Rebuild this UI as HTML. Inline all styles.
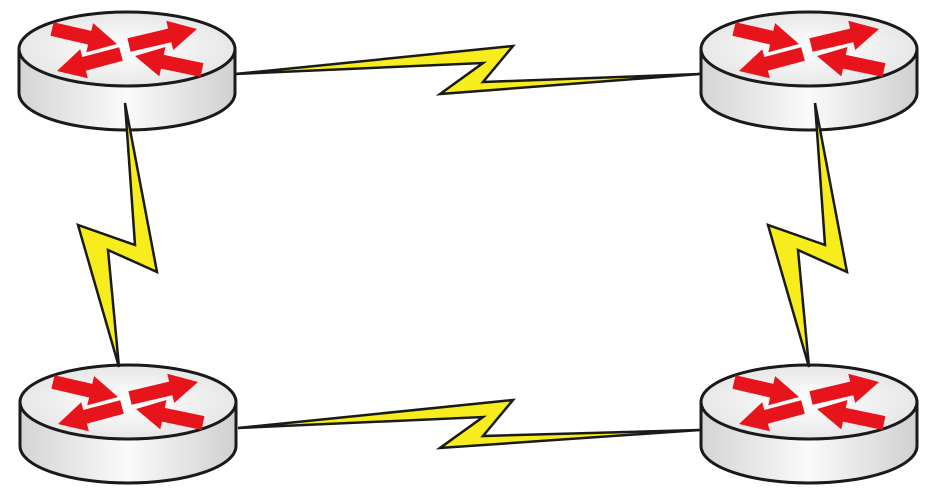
<!DOCTYPE html>
<html><head><meta charset="utf-8"><style>
html,body{margin:0;padding:0;background:#fff;width:937px;height:497px;overflow:hidden}
svg{display:block}
</style></head><body>
<svg id="net" width="937" height="497" viewBox="0 0 937 497" xmlns="http://www.w3.org/2000/svg">
<defs>
<linearGradient id="side" x1="0" x2="1" y1="0" y2="0">
<stop offset="0" stop-color="#d4d4d4"/><stop offset="0.5" stop-color="#fafafa"/><stop offset="1" stop-color="#d0d0d0"/>
</linearGradient>
<radialGradient id="top" cx="0.5" cy="0.5" r="0.6">
<stop offset="0" stop-color="#ffffff"/><stop offset="1" stop-color="#e2e2e2"/>
</radialGradient>
</defs>
<g id="routers"></g>
<g id="links"></g>
</svg>
<script>
const NS='http://www.w3.org/2000/svg';
const routerNames=['router-top-left','router-top-right','router-bottom-left','router-bottom-right'];
const routerCx=[127,809,128,809];
const routerCy=[49,49,402,402];
const linkNames=['link-top','link-left','link-right','link-bottom'];
const linkPts=[
 [[235,74],[513,46],[483,82],[700,74],[440,94],[483,63]],
 [[125,103],[157,272],[108,250],[119,367],[78,225],[135,245]],
 [[815,103],[847,272],[798,250],[809,367],[768,225],[825,245]],
 [[238,428],[513,400],[483,436],[700,430],[440,448],[483,417]]
];
const rx=108, ry=37, h=44;
function mk(t,a){const e=document.createElementNS(NS,t);for(const k in a)e.setAttribute(k,a[k]);return e;}
function arrow(x1,y1,x2,y2){
 const dx=x2-x1,dy=y2-y1,L=Math.hypot(dx,dy),ux=dx/L,uy=dy/L,px=-uy,py=ux;
 const hl=28,hw=15,sw=7;
 const b=L-hl;
 const P=[[0,sw],[b,sw],[b,hw],[L,0],[b,-hw],[b,-sw],[0,-sw]];
 return P.map(p=>(x1+ux*p[0]+px*p[1]).toFixed(1)+','+(y1+uy*p[0]+py*p[1]).toFixed(1)).join(' ');
}
const rg=document.getElementById('routers');
routerCx.forEach((cx,i)=>{
 const cy=routerCy[i];
 const g=mk('g',{});
 
 
 g.appendChild(mk('path',{d:`M${cx-rx},${cy} L${cx-rx},${cy+h} A${rx},${ry} 0 0 0 ${cx+rx},${cy+h} L${cx+rx},${cy} Z`,fill:'url(#side)',stroke:'#1a1a1a','stroke-width':3}));
 g.appendChild(mk('ellipse',{cx:cx,cy:cy,rx:rx,ry:ry,fill:'url(#top)',stroke:'#1a1a1a','stroke-width':3}));
 const A=[[-75,-20,-10,-5],[2,-4,70,-20],[-6,5,-70,22],[75,21,8,7]];
 A.forEach(a=>{
  const p=mk('polygon',{points:arrow(cx+a[0],cy+a[1],cx+a[2],cy+a[3]),fill:'#e8141b'});
  
  
  g.appendChild(p);
 });
 rg.appendChild(g);
});
const lg=document.getElementById('links');
linkPts.forEach((pts,i)=>{
 const p=mk('polygon',{points:pts.map(q=>q.join(',')).join(' '),fill:'#f7ec1c',stroke:'#1a1a1a','stroke-width':2.5,'stroke-linejoin':'miter'});
 
 
 lg.appendChild(p);
});
</script>
</body></html>
